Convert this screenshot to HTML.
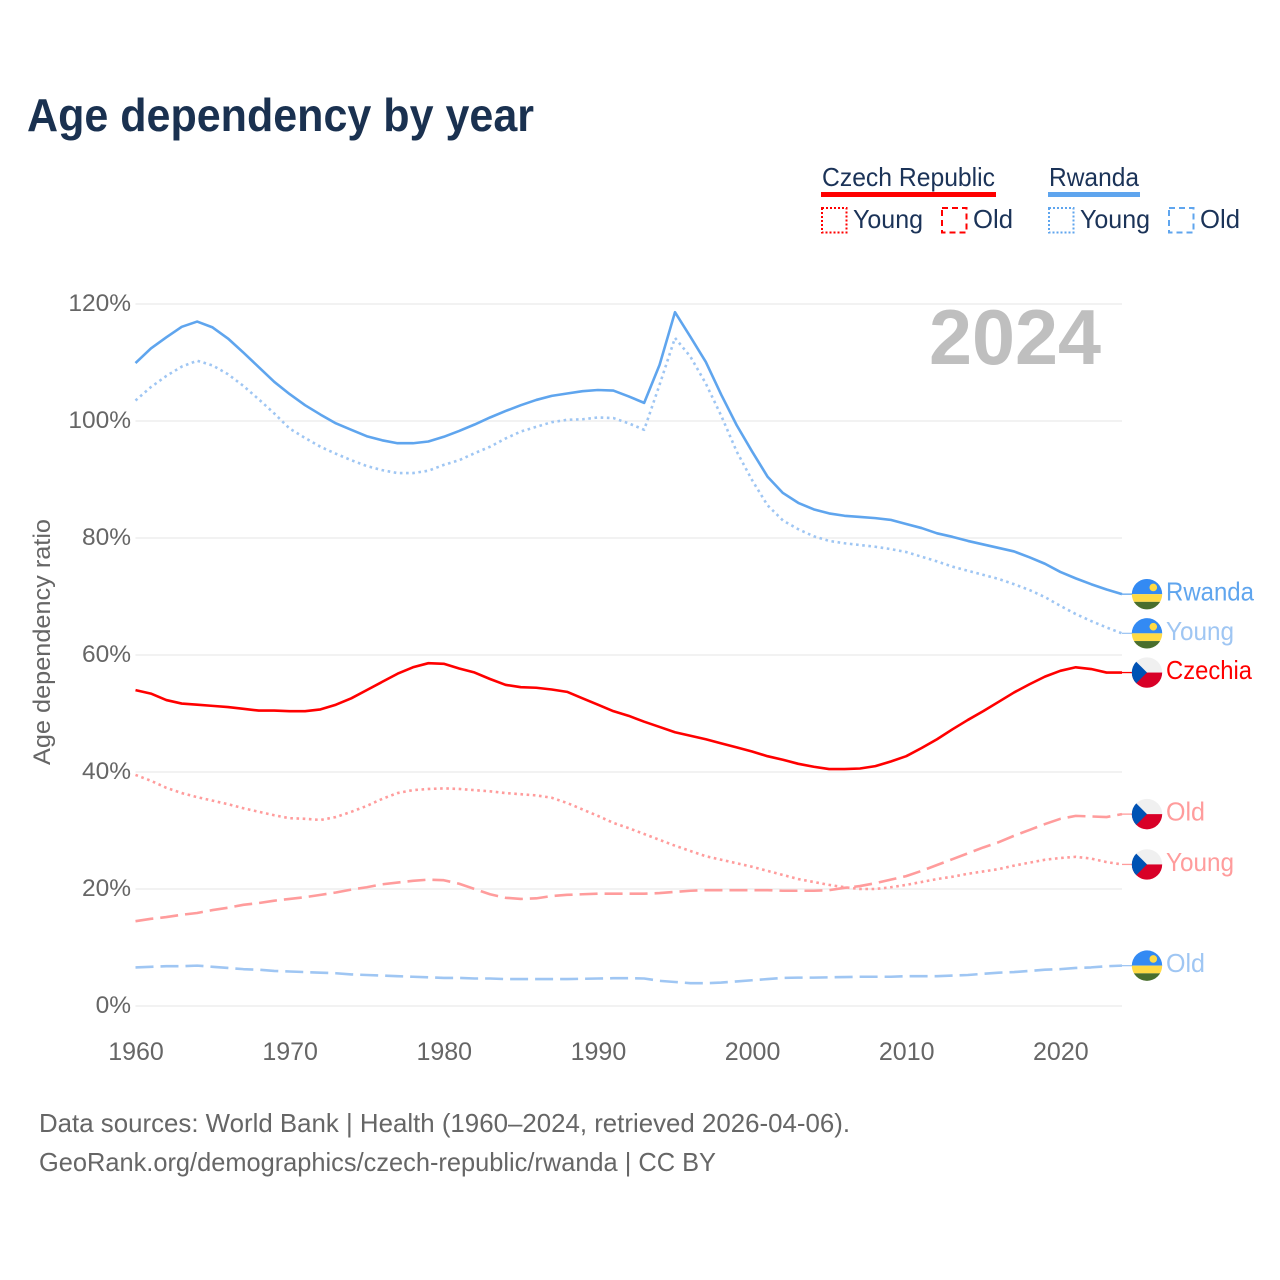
<!DOCTYPE html>
<html lang="en">
<head>
<meta charset="utf-8">
<title>Age dependency by year</title>
<style>
html,body{margin:0;padding:0;background:#fff;width:1280px;height:1280px;overflow:hidden}
svg{display:block}
text{font-family:"Liberation Sans",sans-serif}
</style>
</head>
<body>
<svg id="chart" xmlns="http://www.w3.org/2000/svg" width="1280" height="1280" viewBox="0 0 1280 1280">
  <defs>
    <clipPath id="flag-clip"><circle cx="0" cy="0" r="15.2"/></clipPath>
    <g id="flag-rwanda" clip-path="url(#flag-clip)">
      <rect x="-16" y="-16" width="32" height="16" fill="#338af3"/>
      <rect x="-16" y="0" width="32" height="7.7" fill="#ffda44"/>
      <rect x="-16" y="7.7" width="32" height="9" fill="#496e2d"/>
      <circle cx="6.3" cy="-6.7" r="3.8" fill="#ffda44"/>
    </g>
    <g id="flag-czechia" clip-path="url(#flag-clip)">
      <rect x="-16" y="-16" width="32" height="16" fill="#f0f0f0"/>
      <rect x="-16" y="0" width="32" height="16" fill="#d80027"/>
      <polygon points="-16,-16 0,0 -16,16" fill="#0052b4"/>
    </g>
  </defs>

  <text x="27" y="131" font-size="46" font-weight="700" fill="#1a3150" textLength="507" lengthAdjust="spacingAndGlyphs">Age dependency by year</text>

  <g>
    <g>
      <text x="822" y="186" font-size="26" fill="#1b3358" textLength="173" lengthAdjust="spacingAndGlyphs">Czech Republic</text>
      <rect x="821" y="192" width="175" height="5" fill="#ff0000"/>
    </g>
    <g>
      <text x="1049" y="186" font-size="26" fill="#1b3358" textLength="90" lengthAdjust="spacingAndGlyphs">Rwanda</text>
      <rect x="1048" y="192" width="92" height="5" fill="#5fa5ee"/>
    </g>
    <g>
      <rect x="822" y="208" width="24.5" height="24.5" fill="none" stroke="#ff0000" stroke-width="2" stroke-dasharray="2 2"/>
      <text x="853" y="228" font-size="26" fill="#1b3358" textLength="70" lengthAdjust="spacingAndGlyphs">Young</text>
    </g>
    <g>
      <rect x="942" y="208" width="24.5" height="24.5" fill="none" stroke="#ff0000" stroke-width="2" stroke-dasharray="6 4"/>
      <text x="973" y="228" font-size="26" fill="#1b3358" textLength="40" lengthAdjust="spacingAndGlyphs">Old</text>
    </g>
    <g>
      <rect x="1049" y="208" width="24.5" height="24.5" fill="none" stroke="#5fa5ee" stroke-width="2" stroke-dasharray="2 2"/>
      <text x="1080" y="228" font-size="26" fill="#1b3358" textLength="70" lengthAdjust="spacingAndGlyphs">Young</text>
    </g>
    <g>
      <rect x="1169" y="208" width="24.5" height="24.5" fill="none" stroke="#5fa5ee" stroke-width="2" stroke-dasharray="6 4"/>
      <text x="1200" y="228" font-size="26" fill="#1b3358" textLength="40" lengthAdjust="spacingAndGlyphs">Old</text>
    </g>
  </g>

  <g id="grid"></g>
  <g id="y-axis"></g>
  <g id="x-axis"></g>

  <text transform="translate(50 765) rotate(-90)" x="0" y="0" font-size="24.5" fill="#666666" textLength="246" lengthAdjust="spacingAndGlyphs">Age dependency ratio</text>

  <text x="929" y="364" font-size="78" font-weight="700" fill="#bfbfbf" textLength="172" lengthAdjust="spacingAndGlyphs">2024</text>

  <g id="series"></g>
  <g id="end-labels"></g>

  <text x="39" y="1132" font-size="26" fill="#666666" textLength="811" lengthAdjust="spacingAndGlyphs">Data sources: World Bank | Health (1960–2024, retrieved 2026-04-06).</text>
  <text x="39" y="1171" font-size="26" fill="#666666" textLength="677" lengthAdjust="spacingAndGlyphs">GeoRank.org/demographics/czech-republic/rwanda | CC BY</text>
</svg>

<script>
const years = [1960,1961,1962,1963,1964,1965,1966,1967,1968,1969,1970,1971,1972,1973,1974,1975,1976,1977,1978,1979,1980,1981,1982,1983,1984,1985,1986,1987,1988,1989,1990,1991,1992,1993,1994,1995,1996,1997,1998,1999,2000,2001,2002,2003,2004,2005,2006,2007,2008,2009,2010,2011,2012,2013,2014,2015,2016,2017,2018,2019,2020,2021,2022,2023,2024];
const rwandaTotal = [109.9,112.4,114.3,116.1,117.0,116.0,114.1,111.7,109.2,106.7,104.6,102.7,101.1,99.6,98.5,97.4,96.7,96.2,96.2,96.5,97.3,98.3,99.4,100.6,101.7,102.7,103.6,104.3,104.7,105.1,105.3,105.2,104.2,103.1,109.6,118.6,114.4,110.1,104.5,99.3,94.8,90.5,87.7,86.0,84.9,84.2,83.8,83.6,83.4,83.1,82.4,81.7,80.8,80.2,79.5,78.9,78.3,77.7,76.7,75.6,74.2,73.1,72.1,71.2,70.4];
const rwandaYoung = [103.5,105.8,107.7,109.3,110.3,109.5,108.0,106.0,103.7,101.3,98.7,97.1,95.6,94.4,93.3,92.3,91.6,91.1,91.1,91.5,92.5,93.3,94.5,95.6,97.0,98.2,99.0,99.8,100.2,100.3,100.6,100.5,99.6,98.5,106.2,114.2,111.0,106.4,100.9,94.8,89.9,85.6,83.0,81.5,80.3,79.5,79.1,78.8,78.5,78.1,77.6,76.8,76.0,75.1,74.4,73.7,73.0,72.1,71.1,69.9,68.4,67.0,65.8,64.7,63.7];
const rwandaOld = [6.6,6.7,6.8,6.8,6.9,6.7,6.5,6.3,6.2,6.0,5.9,5.8,5.7,5.6,5.4,5.3,5.2,5.1,5.0,4.9,4.8,4.8,4.7,4.7,4.6,4.6,4.6,4.6,4.6,4.65,4.7,4.75,4.75,4.7,4.3,4.1,3.9,3.9,4.0,4.2,4.4,4.6,4.8,4.85,4.85,4.9,4.95,5.0,5.0,5.0,5.1,5.1,5.1,5.2,5.3,5.5,5.7,5.8,6.0,6.2,6.3,6.5,6.6,6.8,6.9];
const czechTotal = [54.0,53.4,52.3,51.7,51.5,51.3,51.1,50.8,50.5,50.5,50.4,50.4,50.7,51.5,52.6,54.0,55.4,56.8,57.9,58.6,58.5,57.7,57.0,55.9,54.9,54.5,54.4,54.1,53.7,52.6,51.5,50.4,49.6,48.6,47.7,46.8,46.2,45.6,44.9,44.2,43.5,42.7,42.1,41.4,40.9,40.5,40.5,40.6,41.0,41.8,42.7,44.1,45.6,47.3,48.9,50.4,52.0,53.6,55.0,56.3,57.3,57.9,57.6,57.0,57.0];
const czechYoung = [39.5,38.5,37.3,36.4,35.7,35.1,34.5,33.8,33.2,32.6,32.1,32.0,31.8,32.3,33.2,34.2,35.4,36.4,36.9,37.1,37.2,37.1,36.9,36.7,36.4,36.2,36.0,35.6,34.7,33.6,32.5,31.3,30.4,29.4,28.4,27.4,26.5,25.6,25.0,24.4,23.8,23.1,22.4,21.7,21.2,20.7,20.3,20.0,20.0,20.3,20.7,21.2,21.7,22.1,22.6,23.0,23.4,24.0,24.5,25.0,25.3,25.5,25.2,24.6,24.2];
const czechOld = [14.5,14.9,15.2,15.6,15.9,16.4,16.8,17.3,17.6,18.0,18.3,18.6,19.0,19.4,19.9,20.3,20.8,21.1,21.4,21.6,21.5,20.9,20.0,19.1,18.5,18.3,18.4,18.8,19.0,19.1,19.2,19.2,19.2,19.2,19.3,19.5,19.7,19.8,19.8,19.8,19.8,19.8,19.7,19.7,19.7,19.8,20.2,20.5,21.0,21.6,22.2,23.1,24.1,25.1,26.1,27.1,28.0,29.1,30.1,31.1,32.0,32.5,32.4,32.3,32.8];
const yTickValues = [0,20,40,60,80,100,120];
const xTickYears = [1960,1970,1980,1990,2000,2010,2020];

const SVG_NS = 'http://www.w3.org/2000/svg';
const BLUE = '#5fa5ee', RED = '#ff0000';
const LIGHT_BLUE = '#9fc6f3', LIGHT_RED = '#ff9c9c';
const DOTS = '2.6 3.6', DASHES = '18 7';

function xScale(year){ return 135.5 + (year - 1960) * (1122 - 135.5) / 64; }
function yScale(value){ return 1006 - value * (1006 - 304) / 120; }
function make(tag, attrs){
  const el = document.createElementNS(SVG_NS, tag);
  Object.keys(attrs).forEach(function(k){ el.setAttribute(k, attrs[k]); });
  return el;
}

const gridLayer = document.getElementById('grid');
const yLayer = document.getElementById('y-axis');
yTickValues.forEach(function(v){
  const line = make('line', {x1:135.5, x2:1122, y1:yScale(v), y2:yScale(v), stroke:'#eeeeee', 'stroke-width':1.6});
  
  
  gridLayer.appendChild(line);
  const label = make('text', {x:131, y:yScale(v) + 7, 'text-anchor':'end', 'font-size':24.5, fill:'#666666'});
  
  
  label.textContent = v + '%';
  yLayer.appendChild(label);
});

const xLayer = document.getElementById('x-axis');
xTickYears.forEach(function(yr){
  const label = make('text', {x:xScale(yr) + 0.5, y:1060, 'text-anchor':'middle', 'font-size':25, fill:'#666666'});
  
  
  label.textContent = String(yr);
  xLayer.appendChild(label);
});

const seriesList = [
  {id:'rwanda-old',   values:rwandaOld,   color:LIGHT_BLUE, width:2.6, dash:DASHES, label:'Old',     flag:'flag-rwanda',  textLen:39},
  {id:'rwanda-young', values:rwandaYoung, color:LIGHT_BLUE, width:2.6, dash:DOTS,   label:'Young',   flag:'flag-rwanda',  textLen:68},
  {id:'czech-old',    values:czechOld,    color:LIGHT_RED,  width:2.6, dash:DASHES, label:'Old',     flag:'flag-czechia', textLen:39},
  {id:'czech-young',  values:czechYoung,  color:LIGHT_RED,  width:2.6, dash:DOTS,   label:'Young',   flag:'flag-czechia', textLen:68},
  {id:'rwanda-total', values:rwandaTotal, color:BLUE,       width:2.6, dash:'',     label:'Rwanda',  flag:'flag-rwanda',  textLen:88},
  {id:'czech-total',  values:czechTotal,  color:RED,        width:2.6, dash:'',     label:'Czechia', flag:'flag-czechia', textLen:86}
];

const seriesLayer = document.getElementById('series');
const labelLayer = document.getElementById('end-labels');
seriesList.forEach(function(s){
  const d = s.values.map(function(v, i){
    return (i ? 'L' : 'M') + xScale(years[i]).toFixed(2) + ' ' + yScale(v).toFixed(2);
  }).join(' ');
  const path = make('path', {d:d, fill:'none', stroke:s.color, 'stroke-width':s.width, 'stroke-linejoin':'round'});
  if (s.dash) path.setAttribute('stroke-dasharray', s.dash);
  
  
  seriesLayer.appendChild(path);

  const endY = yScale(s.values[s.values.length - 1]);
  const endX = xScale(years[years.length - 1]);
  const connector = make('line', {x1:endX, x2:endX + 11, y1:endY, y2:endY, stroke:s.color, 'stroke-width':1.3});
  
  
  labelLayer.appendChild(connector);

  const flag = make('use', {href:'#' + s.flag, x:1147, y:endY});
  
  
  labelLayer.appendChild(flag);

  const text = make('text', {x:1166, y:endY + 6.5, 'font-size':26, fill:s.color, textLength:s.textLen, lengthAdjust:'spacingAndGlyphs'});
  
  
  text.textContent = s.label;
  labelLayer.appendChild(text);
});
</script>
</body>
</html>
